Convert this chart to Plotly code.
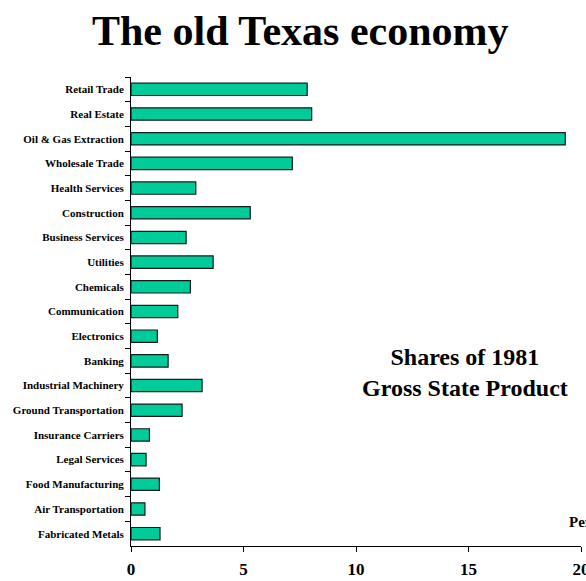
import plotly.graph_objects as go

categories = ["Retail Trade", "Real Estate", "Oil & Gas Extraction", "Wholesale Trade",
              "Health Services", "Construction", "Business Services", "Utilities",
              "Chemicals", "Communication", "Electronics", "Banking",
              "Industrial Machinery", "Ground Transportation", "Insurance Carriers",
              "Legal Services", "Food Manufacturing", "Air Transportation", "Fabricated Metals"]
shares = [7.83, 8.03, 19.3, 7.17, 2.88, 5.30, 2.45, 3.65, 2.64, 2.08, 1.17, 1.65,
          3.16, 2.27, 0.82, 0.67, 1.26, 0.62, 1.29]
x_ticks = [0, 5, 10, 15, 20]

SERIF = "Liberation Serif, Times New Roman, serif"

fig = go.Figure()
fig.add_trace(go.Bar(
    x=shares, y=categories, orientation="h", width=0.5,
    marker=dict(color="#00CC99", line=dict(color="#1a1a1a", width=1.2)),
    hoverinfo="x+y",
))

W, H = 586, 581
L, R, T, B = 131, 5, 77, 35
PW, PH = W - L - R, H - T - B

fig.update_layout(
    width=W, height=H,
    margin=dict(l=L, r=R, t=T, b=B),
    paper_bgcolor="white", plot_bgcolor="white",
    showlegend=False,
    font=dict(family=SERIF, color="black"),
    xaxis=dict(range=[0, 20], tickvals=x_ticks, ticktext=[str(v) for v in x_ticks],
               showgrid=False, zeroline=False, showline=True, linecolor="black", linewidth=1,
               ticks="outside", ticklen=5, tickcolor="black", automargin=False,
               ticklabeloverflow="allow",
               tickfont=dict(family=SERIF, size=17, weight="bold"),
               ticklabelstandoff=3),
    yaxis=dict(categoryorder="array", categoryarray=categories, autorange="reversed",
               showgrid=False, zeroline=False, showline=True, linecolor="black", linewidth=1,
               ticks="outside", ticklen=5, tickcolor="black", tickson="boundaries",
               automargin=False,
               tickfont=dict(family=SERIF, size=11, weight="bold"),
               ticklabelstandoff=4),
    annotations=[
        dict(text="The old Texas economy", xref="paper", yref="paper",
             x=(300 - L) / PW, y=1 + (T - 31) / PH, xanchor="center", yanchor="middle",
             showarrow=False, font=dict(family=SERIF, size=42, weight="bold")),
        dict(text="Shares of 1981<br>Gross State Product", xref="paper", yref="paper",
             x=(465 - L) / PW, y=(H - B - 373) / PH, xanchor="center", yanchor="middle",
             showarrow=False, font=dict(family=SERIF, size=24, weight="bold")),
        dict(text="Percent", xref="paper", yref="paper",
             x=(567 - L) / PW, y=(H - B - 522) / PH, xanchor="left", yanchor="middle",
             showarrow=False, font=dict(family=SERIF, size=15, weight="bold")),
    ],
)

fig.write_html("out.html")
